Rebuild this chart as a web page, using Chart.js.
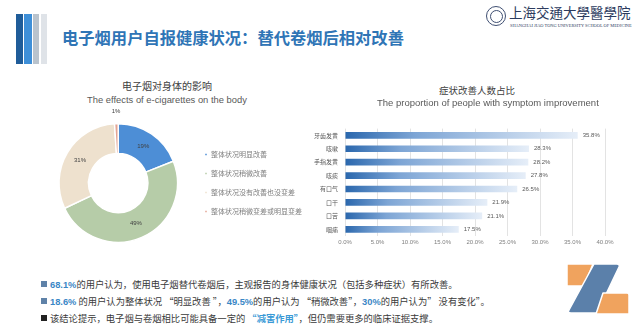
<!DOCTYPE html>
<html><head><meta charset="utf-8">
<script src="https://cdn.jsdelivr.net/npm/chart.js@4.4.1/dist/chart.umd.min.js"></script>
<style>
html,body{margin:0;padding:0;background:#fff;}
#page{position:relative;width:640px;height:331px;overflow:hidden;background:#fff;font-family:"Noto Sans CJK SC","Liberation Sans",sans-serif;}
.abs{position:absolute;}
.stripe{position:absolute;top:14px;height:50px;}
.ctitle{position:absolute;color:#404040;text-align:center;white-space:nowrap;}
.line{position:absolute;left:0;font-size:9.3px;line-height:14px;color:#3a3a3a;white-space:nowrap;}
.bul{position:absolute;left:41px;top:4px;width:6px;height:6px;}
.txt{position:absolute;left:50px;top:0;}
.hl{color:#3a87c6;font-weight:bold;font-family:"Liberation Sans","Noto Sans CJK SC",sans-serif;}
.hl2{color:#3a9ad6;font-weight:bold;}
</style></head><body>
<div id="page">
  <div class="stripe" style="left:16px;width:7px;background:#1f5c99"></div>
  <div class="stripe" style="left:24px;width:8px;background:#3e8fd8"></div>
  <div class="stripe" style="left:33px;width:6px;background:#b9c3cd"></div>
  <div class="stripe" style="left:41px;width:6px;background:#dfe3e8"></div>
  <div class="abs" style="left:62px;top:26px;font-size:16.3px;line-height:22px;font-weight:bold;color:#2f75b6;white-space:nowrap;">电子烟用户自报健康状况：替代卷烟后相对改善</div>

  <div class="abs" style="left:486px;top:6px;width:18px;height:18px;border:1.5px solid #3f4f72;border-radius:50%;"></div>
  <div class="abs" style="left:490px;top:10px;width:11px;height:11px;border:1px solid #3f4f72;border-radius:50%;"></div>
  <div class="abs" style="left:509px;top:3px;font-size:13.5px;line-height:18px;color:#2c3b5e;white-space:nowrap;font-family:'Noto Sans CJK TC';">上海交通大學醫學院</div>
  <div class="abs" style="left:510px;top:23px;font-size:4.4px;line-height:6px;color:#2c3b5e;white-space:nowrap;font-family:'Liberation Serif';">SHANGHAI JIAO TONG UNIVERSITY SCHOOL OF MEDICINE</div>

  <div class="ctitle" style="left:67px;width:200px;top:79px;font-size:10px;line-height:14px;">电子烟对身体的影响</div>
  <div class="ctitle" style="left:67px;width:200px;top:94px;font-size:9.4px;line-height:12px;color:#595959;font-family:'Liberation Sans';">The effects of e-cigarettes on the body</div>
  <div class="abs" style="left:0;top:106px;width:312px;height:150px;"><canvas id="pie"></canvas></div>

  <div class="ctitle" style="left:377px;width:200px;top:84px;font-size:9.5px;line-height:13px;">症状改善人数占比</div>
  <div class="ctitle" style="left:377px;width:200px;top:97px;font-size:9.5px;line-height:12px;color:#595959;font-family:'Liberation Sans';">The proportion of people with symptom improvement</div>
  <div class="abs" style="left:300px;top:118px;width:320px;height:132px;"><canvas id="bar"></canvas></div>

  <div class="line" style="top:277px;"><span class="bul" style="background:#5f82a8"></span><span class="txt"><span class="hl">68.1%</span>的用户认为，使用电子烟替代卷烟后，主观报告的身体健康状况（包括多种症状）有所改善。</span></div>
  <div class="line" style="top:294px;"><span class="bul" style="background:#5f82a8"></span><span class="txt"><span class="hl">18.6%</span> 的用户认为整体状况 “明显改善 ”，<span class="hl">49.5%</span>的用户认为 “稍微改善”，<span class="hl">30%</span>的用户认为” 没有变化”。</span></div>
  <div class="line" style="top:311px;"><span class="bul" style="background:#222"></span><span class="txt">该结论提示，电子烟与卷烟相比可能具备一定的 <span class="hl2">“减害作用”</span>，但仍需要更多的临床证据支撑。</span></div>

  <svg class="abs" style="left:560px;top:258px;" width="76" height="66" viewBox="560 258 76 66">
    <path d="M567,264 L593,264 L584,286 L567,286 Z" fill="#f0a35e" stroke="#fff" stroke-width="1.5" stroke-linejoin="round"/>
    <path d="M594,264 L617,264 Q620,264 619,267 L597,313 L571,313 Q567,313 569,310 Z" fill="#5b80aa" stroke="#fff" stroke-width="1.5" stroke-linejoin="round"/>
    <path d="M603,293 L627,293 Q629,293 629,295 L629,314 L596,314 Z" fill="#f0a35e" stroke="#fff" stroke-width="1.5" stroke-linejoin="round"/>
  </svg>
</div>
<script>
// ---- data ----
const pieLabels = ["整体状况明显改善", "整体状况稍微改善", "整体状况没有改善也没变差", "整体状况稍微变差或明显变差"];
const pieValues = [19, 49, 31, 1];
const pieColors = ["#4d8ed6", "#b6cca8", "#eee1ce", "#e3a594"];

const symptoms = ["牙齿发黄", "咳嗽", "手指发黄", "咳痰", "有口气", "口干", "口苦", "咽痛"];
const improvement = [35.8, 28.3, 28.2, 27.8, 26.5, 21.9, 21.1, 17.5];
const xTickLabels = ["0.0%", "5.0%", "10.0%", "15.0%", "20.0%", "25.0%", "30.0%", "35.0%", "40.0%"];

const FONT = "'Liberation Sans','Noto Sans CJK SC',sans-serif";
const CJK = "'Noto Sans CJK SC','Liberation Sans',sans-serif";

const pieLabelPlugin = {
  id: 'pieLabels',
  afterDatasetsDraw(chart) {
    const ctx = chart.ctx;
    const meta = chart.getDatasetMeta(0);
    ctx.save();
    ctx.font = "6px " + FONT;
    ctx.fillStyle = '#404040';
    ctx.textAlign = 'center';
    ctx.textBaseline = 'middle';
    meta.data.forEach((arc, i) => {
      const p = arc.getProps(['x', 'y', 'startAngle', 'endAngle', 'innerRadius', 'outerRadius'], true);
      const mid = (p.startAngle + p.endAngle) / 2;
      const v = pieValues[i];
      const r = v < 3 ? p.outerRadius + 12 : (p.innerRadius + p.outerRadius) / 2;
      ctx.fillText(v + '%', p.x + Math.cos(mid) * r, p.y + Math.sin(mid) * r);
    });
    ctx.restore();
  }
};

new Chart(document.getElementById('pie'), {
  type: 'doughnut',
  data: { labels: pieLabels, datasets: [{ data: pieValues, backgroundColor: pieColors, borderColor: '#ffffff', borderWidth: 1.5 }] },
  options: {
    responsive: true, maintainAspectRatio: false, animation: false,
    cutout: '50%',
    layout: { padding: { left: 44, top: 17, bottom: 13, right: 0 } },
    plugins: {
      legend: { position: 'right', align: 'center',
        labels: { boxWidth: 3, boxHeight: 3, padding: 12, color: '#808080', font: { size: 7, family: CJK } } },
      tooltip: { enabled: false }
    }
  },
  plugins: [pieLabelPlugin]
});

const barValuePlugin = {
  id: 'barValues',
  afterDatasetsDraw(chart) {
    const ctx = chart.ctx;
    const meta = chart.getDatasetMeta(0);
    ctx.save();
    ctx.font = "6px " + FONT;
    ctx.fillStyle = '#595959';
    ctx.textAlign = 'left';
    ctx.textBaseline = 'middle';
    meta.data.forEach((bar, i) => {
      ctx.fillText(improvement[i].toFixed(1) + '%', bar.x + 5, bar.y);
    });
    ctx.restore();
  }
};

new Chart(document.getElementById('bar'), {
  type: 'bar',
  data: { labels: symptoms, datasets: [{
    data: improvement,
    backgroundColor: (c) => {
      const chart = c.chart;
      if (!chart.chartArea || !chart.scales.x) return '#5b8fcc';
      const xs = chart.scales.x;
      const x0 = xs.getPixelForValue(0), x1 = xs.getPixelForValue(c.raw);
      const g = chart.ctx.createLinearGradient(x0, 0, x1, 0);
      g.addColorStop(0, '#2a67ad');
      g.addColorStop(0.3, '#7da5d5');
      g.addColorStop(1, '#e6eef8');
      return g;
    },
    barPercentage: 0.5, categoryPercentage: 1
  }] },
  options: {
    indexAxis: 'y', responsive: true, maintainAspectRatio: false, animation: false,
    layout: { padding: { top: 2, right: 15, left: 0, bottom: 0 } },
    scales: {
      x: { min: 0, max: 40,
        afterBuildTicks: (s) => { s.ticks = xTickLabels.map(t => ({ value: parseFloat(t) })); },
        ticks: { callback: (v, i) => xTickLabels[i], color: '#808080', font: { size: 6, family: FONT }, padding: 3, maxRotation: 0 },
        grid: { color: '#e3e3e3', drawTicks: false },
        border: { display: false },
        afterFit: (s) => { s.height = 14; }
      },
      y: {
        ticks: { color: '#595959', font: { size: 6, family: CJK }, padding: 7 },
        grid: { display: false, drawTicks: false },
        border: { display: false },
        afterFit: (s) => { s.width = 45; }
      }
    },
    plugins: { legend: { display: false }, tooltip: { enabled: false } }
  },
  plugins: [barValuePlugin]
});
</script>
</body></html>
